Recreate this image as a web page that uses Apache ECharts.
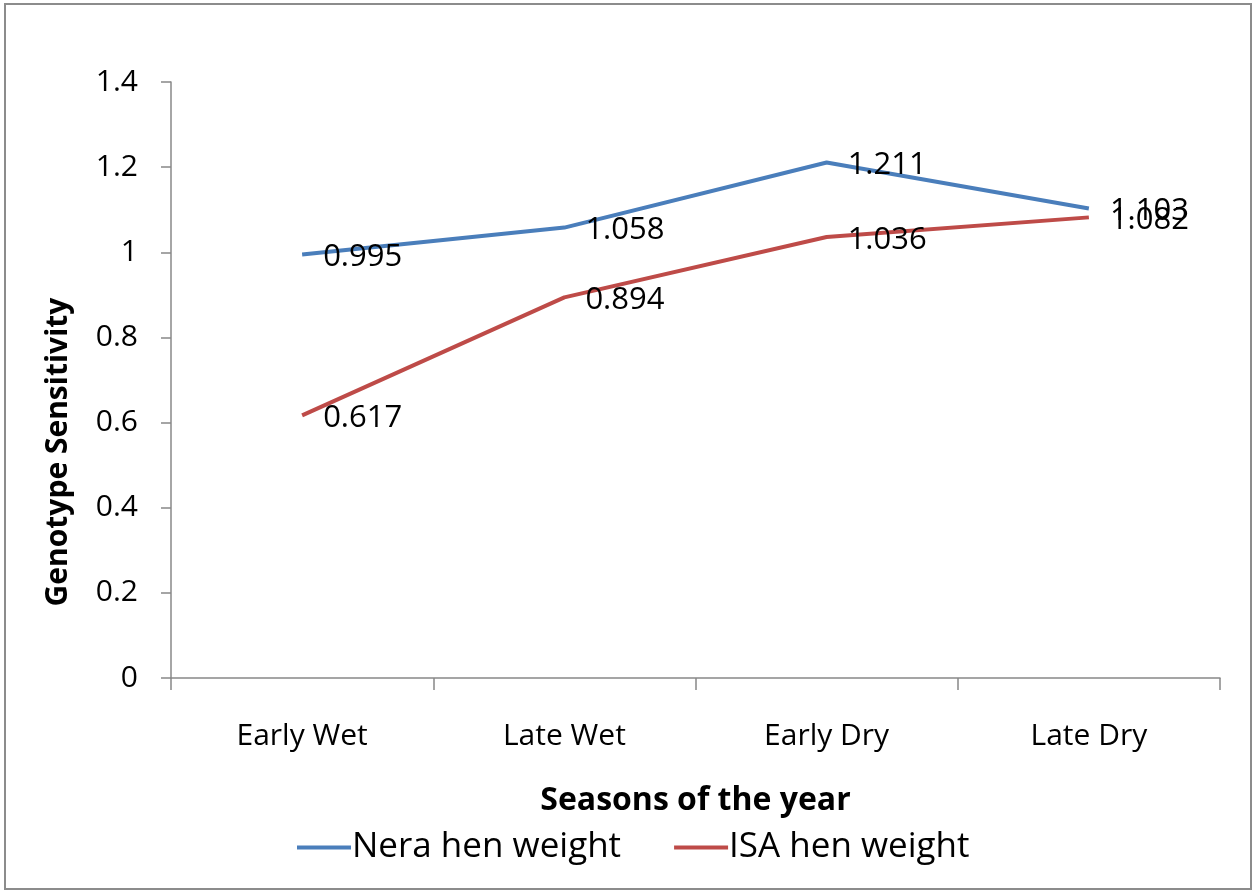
<!DOCTYPE html>
<html>
<head>
<meta charset="utf-8">
<script src="https://cdn.jsdelivr.net/npm/echarts@6/dist/echarts.min.js"></script>
<style>
html,body{margin:0;padding:0;background:#fff;}
#chart{width:1255px;height:892px;}
</style>
</head>
<body>
<div id="chart"></div>
<script>
const categories = ['Early Wet', 'Late Wet', 'Early Dry', 'Late Dry'];
const neraWeight = [0.995, 1.058, 1.211, 1.103];
const isaWeight = [0.617, 0.894, 1.036, 1.082];
const seriesNames = ['Nera hen weight', 'ISA hen weight'];
const yTitle = 'Genotype Sensitivity';
const xTitle = 'Seasons of the year';

const FONT = 'Open Sans';
const chart = echarts.init(document.getElementById('chart'));

function lineSeries(name, data, color) {
  return {
    name: name,
    type: 'line',
    data: data,
    symbol: 'circle',
    symbolSize: 0,
    lineStyle: { color: color, width: 4 },
    itemStyle: { color: color },
    label: {
      show: true,
      position: 'right',
      distance: 21,
      offset: [0, 3],
      color: '#000',
      fontFamily: FONT,
      fontSize: 31
    },
    emphasis: { disabled: true },
    animation: false
  };
}

chart.setOption({
  animation: false,
  backgroundColor: '#fff',
  textStyle: { fontFamily: FONT },
  grid: { left: 171, right: 35, top: 82, bottom: 214, containLabel: false },
  graphic: [
    {
      type: 'rect',
      shape: { x: 5, y: 4, width: 1246, height: 885 },
      style: { fill: 'none', stroke: '#8c8c8c', lineWidth: 2 },
      silent: true
    },
    {
      type: 'text',
      x: 58, y: 452,
      rotation: Math.PI / 2,
      style: {
        text: yTitle,
        fontFamily: FONT,
        fontWeight: 'bold',
        fontSize: 30,
        fill: '#000',
        align: 'center',
        verticalAlign: 'middle'
      },
      silent: true
    }
  ],
  legend: {
    bottom: 22,
    left: 292,
    itemWidth: 54,
    itemHeight: 4,
    itemGap: 53,
    icon: 'rect',
    textStyle: { fontFamily: FONT, fontSize: 35, color: '#000', padding: [0, 0, 0, -4] },
    data: seriesNames
  },
  xAxis: {
    type: 'category',
    data: categories,
    boundaryGap: true,
    name: xTitle,
    nameLocation: 'middle',
    nameGap: 123,
    nameTextStyle: { fontFamily: FONT, fontWeight: 'bold', fontSize: 32, color: '#000', verticalAlign: 'middle' },
    axisLine: { lineStyle: { color: '#888', width: 1.5 } },
    axisTick: { show: true, length: 12, lineStyle: { color: '#888', width: 1.5 } },
    axisLabel: { color: '#000', fontFamily: FONT, fontSize: 30, margin: 43 },
    splitLine: { show: false }
  },
  yAxis: {
    type: 'value',
    min: 0,
    max: 1.4,
    interval: 0.2,
    axisLine: { show: true, lineStyle: { color: '#888', width: 1.5 } },
    axisTick: { show: true, length: 10, lineStyle: { color: '#888', width: 1.5 } },
    axisLabel: {
      color: '#000', fontFamily: FONT, fontSize: 30, margin: 33,
      formatter: function (v) { return String(Math.round(v * 10) / 10); }
    },
    splitLine: { show: false }
  },
  series: [
    lineSeries(seriesNames[0], neraWeight, '#4a7ebb'),
    lineSeries(seriesNames[1], isaWeight, '#be4b48')
  ]
});
</script>
</body>
</html>
